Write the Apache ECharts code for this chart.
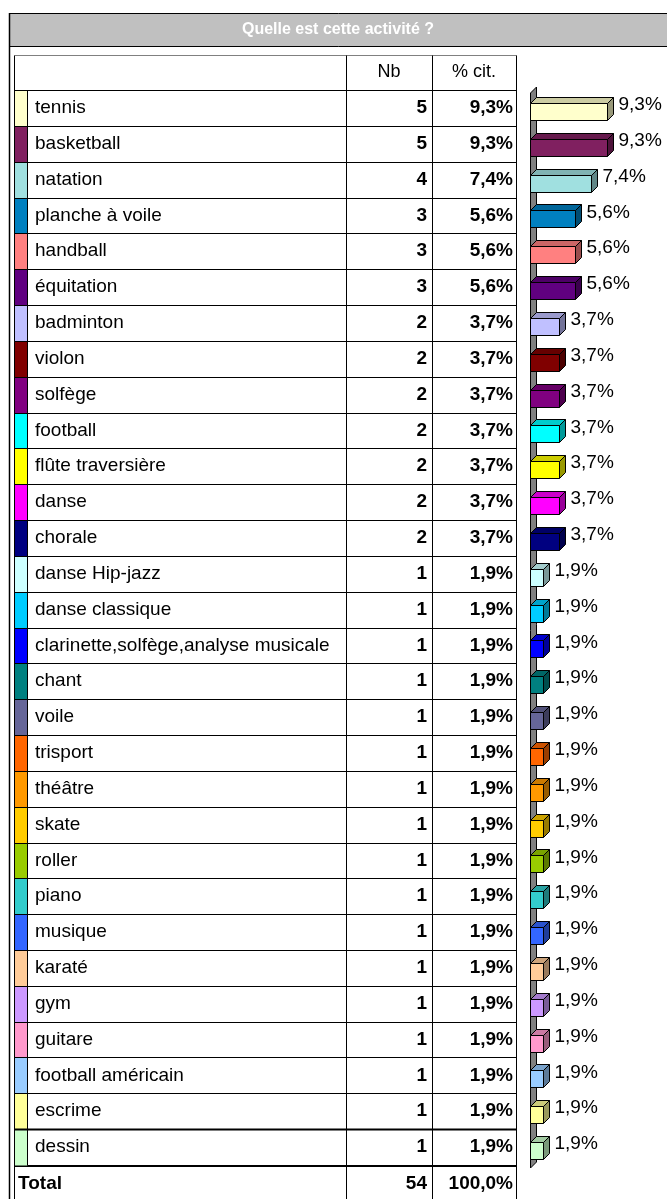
<!DOCTYPE html>
<html><head><meta charset="utf-8">
<script src="https://cdn.jsdelivr.net/npm/echarts@6/dist/echarts.min.js"></script>
<style>html,body{margin:0;padding:0;background:#fff}#c{width:667px;height:1199px}</style>
</head><body><div id="c"></div>
<script>
const chartTitle = 'Quelle est cette activité ?';
const headerLabels = ['Nb', '% cit.'];
const totalLabel = 'Total';
const categories = ['tennis','basketball','natation','planche à voile','handball','équitation','badminton','violon','solfège','football','flûte traversière','danse','chorale','danse Hip-jazz','danse classique','clarinette,solfège,analyse musicale','chant','voile','trisport','théâtre','skate','roller','piano','musique','karaté','gym','guitare','football américain','escrime','dessin'];
const counts = [5,5,4,3,3,3,2,2,2,2,2,2,2,1,1,1,1,1,1,1,1,1,1,1,1,1,1,1,1,1];
const pcts = [9.3,9.3,7.4,5.6,5.6,5.6,3.7,3.7,3.7,3.7,3.7,3.7,3.7,1.9,1.9,1.9,1.9,1.9,1.9,1.9,1.9,1.9,1.9,1.9,1.9,1.9,1.9,1.9,1.9,1.9];
const colors = ['#FFFFCC','#802060','#A0E0E0','#0080C0','#FF8080','#600080','#C0C0FF','#800000','#800080','#00FFFF','#FFFF00','#FF00FF','#000080','#CCFFFF','#00CCFF','#0000FF','#008080','#666699','#FF6600','#FF9900','#FFCC00','#99CC00','#33CCCC','#3366FF','#FFCC99','#CC99FF','#FF99CC','#99CCFF','#FFFF99','#CCFFCC'];

const FONT = '"Liberation Sans", Arial, sans-serif';
const fmtPct = v => v.toFixed(1).replace('.', ',') + '%';
const totalCount = counts.reduce((a, b) => a + b, 0);

function shade(hex, f) {
  const n = parseInt(hex.slice(1), 16);
  const r = Math.round(((n >> 16) & 255) * f), g = Math.round(((n >> 8) & 255) * f), b = Math.round((n & 255) * f);
  return 'rgb(' + r + ',' + g + ',' + b + ')';
}

const COLX = {left: 14.5, sw: 27.5, name: 346.5, nb: 432.5, right: 516.5};

function renderRow(params, api) {
  const i = params.dataIndex;
  const c = api.coord([0, i]);
  const band = api.size([0, 1])[1];
  const y0 = Math.round(c[1] - band / 2) + 0.5;
  const y1 = Math.round(c[1] + band / 2) + 0.5;
  const yc = c[1];
  const ch = [];
  ch.push({type: 'rect', shape: {x: 15, y: y0, width: 12.5, height: y1 - y0}, style: {fill: colors[i], stroke: null}});
  ch.push({type: 'line', shape: {x1: COLX.left, y1: y0, x2: COLX.right, y2: y0}, style: {stroke: '#000', lineWidth: i === categories.length - 1 ? 2 : 1}});
  [COLX.left, COLX.sw, COLX.name, COLX.nb, COLX.right].forEach(x => {
    ch.push({type: 'line', shape: {x1: x, y1: y0, x2: x, y2: y1}, style: {stroke: '#000', lineWidth: 1}});
  });
  ch.push({type: 'text', x: 35, y: yc, style: {text: categories[i], font: '19px ' + FONT, fill: '#000', textAlign: 'left', textVerticalAlign: 'middle'}});
  ch.push({type: 'text', x: 427, y: yc, style: {text: String(api.value(0)), font: 'bold 19px ' + FONT, fill: '#000', textAlign: 'right', textVerticalAlign: 'middle'}});
  ch.push({type: 'text', x: 513, y: yc, style: {text: fmtPct(pcts[i]), font: 'bold 19px ' + FONT, fill: '#000', textAlign: 'right', textVerticalAlign: 'middle'}});
  return {type: 'group', children: ch};
}

const DX = 6, DY = 6, FH = 17;
function renderBar(params, api) {
  const i = params.dataIndex;
  const v = api.value(0);
  const p = api.coord([v, i]);
  const z = api.coord([0, i]);
  const x0 = Math.round(z[0] + 3.5) + 0.5;
  const x1 = Math.round(p[0]) + 0.5;
  const yF = Math.round(p[1] - 5) + 0.5;
  const col = colors[i];
  const st = {stroke: '#000', lineWidth: 1};
  return {type: 'group', children: [
    {type: 'polygon', shape: {points: [[x0, yF], [x0 + DX, yF - DY], [x1 + DX, yF - DY], [x1, yF]]}, style: Object.assign({fill: shade(col, 0.8)}, st)},
    {type: 'polygon', shape: {points: [[x1, yF], [x1 + DX, yF - DY], [x1 + DX, yF - DY + FH], [x1, yF + FH]]}, style: Object.assign({fill: shade(col, 0.6)}, st)},
    {type: 'rect', shape: {x: x0, y: yF, width: x1 - x0, height: FH}, style: Object.assign({fill: col}, st)},
    {type: 'text', x: x1 + DX + 5, y: p[1] - 3, style: {text: fmtPct(v), font: '19px ' + FONT, fill: '#000', textAlign: 'left', textVerticalAlign: 'middle'}}
  ]};
}

const chart = echarts.init(document.getElementById('c'), null, {renderer: 'canvas'});
chart.setOption({
  animation: false,
  grid: {left: 526.5, top: 90, width: 86.5, height: 1075, containLabel: false},
  xAxis: {type: 'value', min: 0, max: 10, show: false},
  yAxis: {type: 'category', data: categories, inverse: true, show: false},
  graphic: [
    {type: 'rect', shape: {x: 9.5, y: 13.5, width: 700, height: 33}, style: {fill: '#C0C0C0', stroke: '#000', lineWidth: 1}},
    {type: 'line', shape: {x1: 9.5, y1: 13, x2: 9.5, y2: 1199}, style: {stroke: '#000', lineWidth: 1.5}},
    {type: 'text', x: 338, y: 30, style: {text: chartTitle, font: 'bold 16px ' + FONT, fill: '#fff', textAlign: 'center', textVerticalAlign: 'middle'}},
    {type: 'line', shape: {x1: 14.5, y1: 55.5, x2: 516.5, y2: 55.5}, style: {stroke: '#808080', lineWidth: 1}},
    {type: 'line', shape: {x1: 14.5, y1: 55.5, x2: 14.5, y2: 1199}, style: {stroke: '#000', lineWidth: 1}},
    {type: 'line', shape: {x1: 346.5, y1: 55.5, x2: 346.5, y2: 1199}, style: {stroke: '#000', lineWidth: 1}},
    {type: 'line', shape: {x1: 432.5, y1: 55.5, x2: 432.5, y2: 1199}, style: {stroke: '#000', lineWidth: 1}},
    {type: 'line', shape: {x1: 516.5, y1: 55.5, x2: 516.5, y2: 1199}, style: {stroke: '#000', lineWidth: 1}},
    {type: 'text', x: 389, y: 72.5, style: {text: headerLabels[0], font: '18px ' + FONT, fill: '#000', textAlign: 'center', textVerticalAlign: 'middle'}},
    {type: 'text', x: 474, y: 72.5, style: {text: headerLabels[1], font: '18px ' + FONT, fill: '#000', textAlign: 'center', textVerticalAlign: 'middle'}},
    {type: 'line', shape: {x1: 14.5, y1: 1166, x2: 516.5, y2: 1166}, style: {stroke: '#000', lineWidth: 2}},
    {type: 'text', x: 18, y: 1184, style: {text: totalLabel, font: 'bold 19px ' + FONT, fill: '#000', textAlign: 'left', textVerticalAlign: 'middle'}},
    {type: 'text', x: 427, y: 1184, style: {text: String(totalCount), font: 'bold 19px ' + FONT, fill: '#000', textAlign: 'right', textVerticalAlign: 'middle'}},
    {type: 'text', x: 513, y: 1184, style: {text: fmtPct(100), font: 'bold 19px ' + FONT, fill: '#000', textAlign: 'right', textVerticalAlign: 'middle'}},
    {type: 'polygon', shape: {points: [[530.5, 93], [536.5, 87], [536.5, 1162], [530.5, 1168]]}, style: {fill: '#808080', stroke: '#000', lineWidth: 1}}
  ],
  series: [
    {type: 'custom', name: 'table', clip: false, renderItem: renderRow, data: counts.map((n, i) => [n, i]), encode: {x: 0, y: 1}, z: 3},
    {type: 'custom', name: 'bars', clip: false, renderItem: renderBar, data: pcts.map((v, i) => [v, i]), encode: {x: 0, y: 1}, z: 4}
  ]
});
</script>
</body></html>
